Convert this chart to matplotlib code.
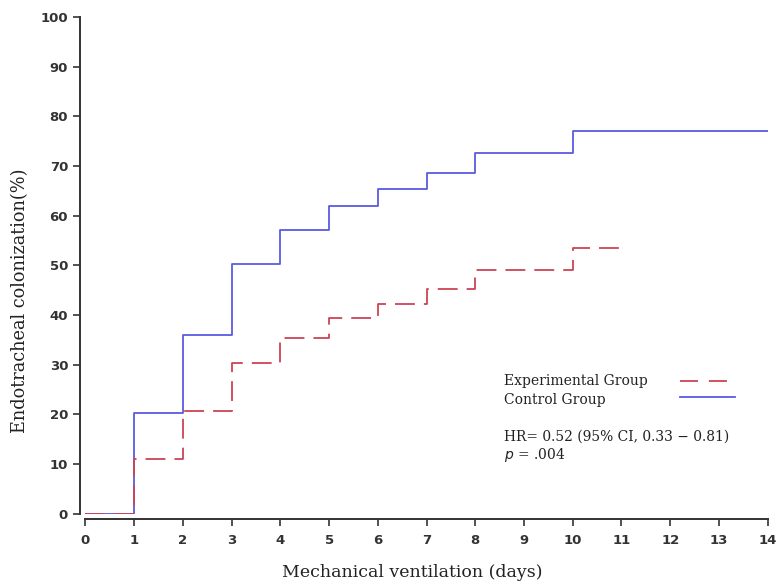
import matplotlib
matplotlib.use("Agg")
import matplotlib.pyplot as plt

days = [0, 1, 2, 3, 4, 5, 6, 7, 8, 10, 14]
control = [0, 20.3, 35.9, 50.2, 57.1, 61.9, 65.3, 68.5, 72.6, 77.1, 77.1]
exp_days = [0, 1, 2, 3, 4, 5, 6, 7, 8, 10, 11]
experimental = [0, 11.1, 20.6, 30.4, 35.4, 39.4, 42.3, 45.2, 49.1, 53.5, 53.5]
xticks = list(range(0, 15))
yticks = list(range(0, 101, 10))

blue = "#5a5ae0"
red = "#cc4455"

fig = plt.figure(figsize=(7.77, 5.85), dpi=100)
ax = fig.add_axes([0.110, 0.122, 0.878, 0.849])

ax.step(days, control, where="post", color=blue, lw=1.3)
ax.step(exp_days, experimental, where="post", color=red, lw=1.3,
        dashes=(11, 5))

ax.set_xlim(0, 14)
ax.set_ylim(0, 100)
ax.set_xticks(xticks)
ax.set_yticks(yticks)
for s in ["top", "right"]:
    ax.spines[s].set_visible(False)
for s in ["left", "bottom"]:
    ax.spines[s].set_position(("outward", 4))
    ax.spines[s].set_linewidth(1.4)
    ax.spines[s].set_color("#333333")
ax.tick_params(axis="both", direction="out", length=5, width=1.2,
               color="#333333", labelcolor="#333333", labelsize=9.5)
for lab in ax.get_xticklabels() + ax.get_yticklabels():
    lab.set_fontweight("bold")
ax.tick_params(axis="x", pad=6)

ax.set_xlabel("Mechanical ventilation (days)", family="DejaVu Serif",
              fontsize=12.5, color="#222222")
ax.set_ylabel("Endotracheal colonization(%)", family="DejaVu Serif",
              fontsize=12.8, color="#222222")
ax.xaxis.set_label_coords(0.479, -0.102)
ax.yaxis.set_label_coords(-0.082, 0.428)

tf = ax.transAxes
serif = "DejaVu Serif"
ax.text(0.614, 0.267, "Experimental Group", transform=tf, family=serif,
        fontsize=10, color="#222222", va="center")
ax.text(0.614, 0.229, "Control Group", transform=tf, family=serif,
        fontsize=10, color="#222222", va="center")
ax.plot([0.872, 0.952], [0.268, 0.268], transform=tf, color=red, lw=1.3,
        dashes=(10, 6))
ax.plot([0.872, 0.952], [0.235, 0.235], transform=tf, color=blue, lw=1.3)
ax.text(0.614, 0.154, "HR= 0.52 (95% CI, 0.33 \u2212 0.81)", transform=tf,
        family=serif, fontsize=10, color="#222222", va="center")
ax.text(0.614, 0.119, r"$p$ = .004", transform=tf, family=serif,
        fontsize=10, color="#222222", va="center")

fig.savefig("out.png", dpi=100)
